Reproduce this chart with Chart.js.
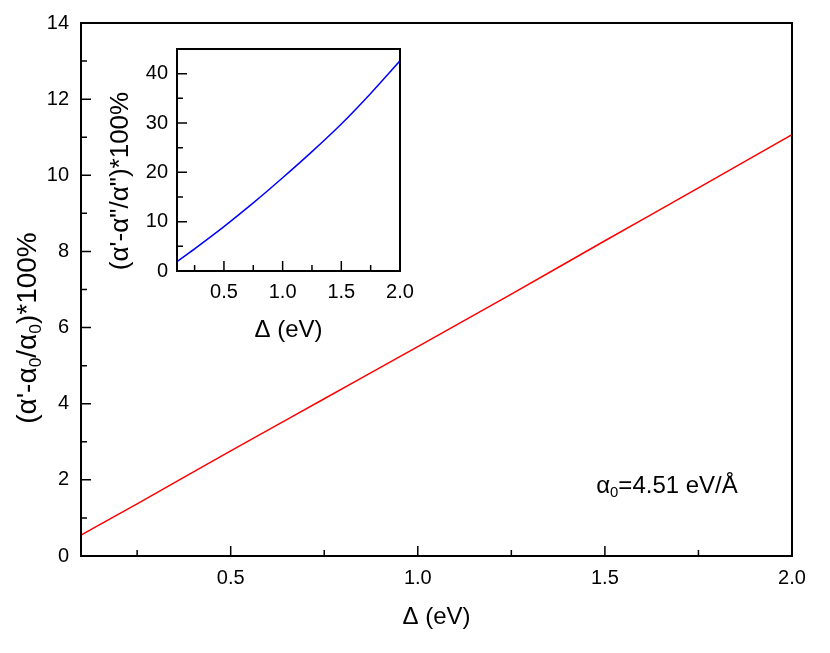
<!DOCTYPE html>
<html>
<head>
<meta charset="utf-8">
<script src="https://cdn.jsdelivr.net/npm/chart.js@4.4.1/dist/chart.umd.min.js"></script>
<style>
  body { margin: 0; background: #fff; }
  #wrap { position: relative; width: 830px; height: 653px; }
  #main { position: absolute; left: 0; top: 0; }
  #inset { position: absolute; left: 100px; top: 35px; }
</style>
</head>
<body>
<div id="wrap">
  <canvas id="main" width="830" height="653"></canvas>
  <canvas id="inset" width="320" height="315"></canvas>
</div>
<script>
// values
const delta = [0.1, 0.25, 0.5, 0.75, 1.0, 1.25, 1.5, 1.75, 2.0];
const mainPct = [0.55, 1.37, 2.76, 4.13, 5.50, 6.88, 8.28, 9.67, 11.07];
const insetPct = [1.9, 4.5, 9.0, 13.8, 18.9, 24.2, 29.8, 36.0, 42.6];

const mainXTicks = [0.5, 1.0, 1.5, 2.0];
const mainXMinor = [0.25, 0.75, 1.25, 1.75];
const mainYTicks = [0, 2, 4, 6, 8, 10, 12, 14];
const mainYMinor = [1, 3, 5, 7, 9, 11, 13];
const insetXTicks = [0.5, 1.0, 1.5, 2.0];
const insetXMinor = [0.25, 0.75, 1.25, 1.75];
const insetYTicks = [0, 10, 20, 30, 40];
const insetYMinor = [5, 15, 25, 35];

const FONT = '"Liberation Sans", Arial, sans-serif';

// draws text with subscript parts, centered on (x, y)
function drawRich(ctx, parts, x, y, size, rotate) {
  ctx.save();
  ctx.translate(x, y);
  if (rotate) ctx.rotate(-Math.PI / 2);
  ctx.fillStyle = '#000';
  ctx.textBaseline = 'alphabetic';
  ctx.textAlign = 'left';
  let total = 0;
  parts.forEach(p => {
    ctx.font = (p.sub ? size * 0.62 : size) + 'px ' + FONT;
    p.w = ctx.measureText(p.t).width;
    total += p.w;
  });
  let cx = -total / 2;
  parts.forEach(p => {
    ctx.font = (p.sub ? size * 0.62 : size) + 'px ' + FONT;
    ctx.fillText(p.t, cx, p.sub ? size * 0.55 : size * 0.36);
    cx += p.w;
  });
  ctx.restore();
}

function framePlugin(opts) {
  return {
    id: 'frame',
    afterDraw(chart) {
      const ctx = chart.ctx;
      const a = chart.chartArea;
      const xs = chart.scales.x, ys = chart.scales.y;
      ctx.save();
      ctx.strokeStyle = '#000';
      ctx.lineWidth = 1.5;
      ctx.beginPath();
      opts.xMajor.forEach(v => { const p = xs.getPixelForValue(v); ctx.moveTo(p, a.bottom); ctx.lineTo(p, a.bottom - opts.major); });
      opts.xMinor.forEach(v => { const p = xs.getPixelForValue(v); ctx.moveTo(p, a.bottom); ctx.lineTo(p, a.bottom - opts.minor); });
      opts.yMajor.forEach(v => { const p = ys.getPixelForValue(v); ctx.moveTo(a.left, p); ctx.lineTo(a.left + opts.major, p); });
      opts.yMinor.forEach(v => { const p = ys.getPixelForValue(v); ctx.moveTo(a.left, p); ctx.lineTo(a.left + opts.minor, p); });
      ctx.stroke();
      ctx.lineWidth = 2;
      ctx.strokeRect(a.left, a.top, a.right - a.left, a.bottom - a.top);
      ctx.restore();
      opts.texts(ctx, chart);
    }
  };
}

function noPad(scale) {
  scale.paddingTop = 0;
  scale.paddingBottom = 0;
  scale.paddingLeft = 0;
  scale.paddingRight = 0;
}

function makeChart(id, cfg) {
  return new Chart(document.getElementById(id), {
    type: 'line',
    data: {
      datasets: [{
        data: delta.map((d, i) => ({ x: d, y: cfg.values[i] })),
        borderColor: cfg.color,
        borderWidth: 1.5,
        pointRadius: 0,
        cubicInterpolationMode: 'monotone'
      }]
    },
    options: {
      responsive: false,
      animation: false,
      events: [],
      layout: { padding: cfg.padding },
      plugins: { legend: { display: false }, tooltip: { enabled: false } },
      scales: {
        x: {
          type: 'linear', min: 0.1, max: 2.0,
          afterBuildTicks(scale) { scale.ticks = cfg.xTicks.map(v => ({ value: v })); },
          afterFit(scale) { scale.height = cfg.xHeight; noPad(scale); },
          grid: { display: false, drawTicks: false },
          border: { display: false },
          ticks: {
            color: '#000', padding: cfg.xPad, maxRotation: 0, autoSkip: false,
            font: { family: FONT, size: cfg.tickSize },
            callback: v => v.toFixed(1)
          }
        },
        y: {
          type: 'linear', min: 0, max: cfg.yMax,
          afterBuildTicks(scale) { scale.ticks = cfg.yTicks.map(v => ({ value: v })); },
          afterFit(scale) { scale.width = cfg.yWidth; noPad(scale); },
          grid: { display: false, drawTicks: false },
          border: { display: false },
          ticks: {
            color: '#000', padding: cfg.yPad, autoSkip: false,
            font: { family: FONT, size: cfg.tickSize },
            callback: v => String(v)
          }
        }
      }
    },
    plugins: [framePlugin(cfg.frame)]
  });
}

makeChart('main', {
  values: mainPct, color: '#ff0000', yMax: 14,
  xTicks: mainXTicks, yTicks: mainYTicks,
  padding: { top: 23, right: 38, left: 0, bottom: 0 },
  xHeight: 97, yWidth: 81, xPad: 10, yPad: 12, tickSize: 20,
  frame: {
    xMajor: mainXTicks, xMinor: mainXMinor, yMajor: mainYTicks, yMinor: mainYMinor,
    major: 10, minor: 6,
    texts(ctx, chart) {
      const a = chart.chartArea;
      drawRich(ctx, [{ t: 'Δ (eV)' }], (a.left + a.right) / 2, 615, 24, false);
      drawRich(ctx, [{ t: "(α'-α" }, { t: '0', sub: true }, { t: '/α' }, { t: '0', sub: true }, { t: ')*100%' }],
        26, 328, 28, true);
      drawRich(ctx, [{ t: 'α' }, { t: '0', sub: true }, { t: '=4.51 eV/Å' }], 667, 484, 24, false);
    }
  }
});

makeChart('inset', {
  values: insetPct, color: '#0000ff', yMax: 45,
  xTicks: insetXTicks, yTicks: insetYTicks,
  padding: { top: 14, right: 20, left: 0, bottom: 0 },
  xHeight: 79, yWidth: 77, xPad: 9, yPad: 9, tickSize: 20,
  frame: {
    xMajor: insetXTicks, xMinor: insetXMinor, yMajor: insetYTicks, yMinor: insetYMinor,
    major: 10, minor: 6,
    texts(ctx, chart) {
      const a = chart.chartArea;
      drawRich(ctx, [{ t: 'Δ (eV)' }], (a.left + a.right) / 2, 293, 24, false);
      drawRich(ctx, [{ t: "(α'-α\"/α\")*100%" }], 19, 146, 26, true);
    }
  }
});
</script>
</body>
</html>
